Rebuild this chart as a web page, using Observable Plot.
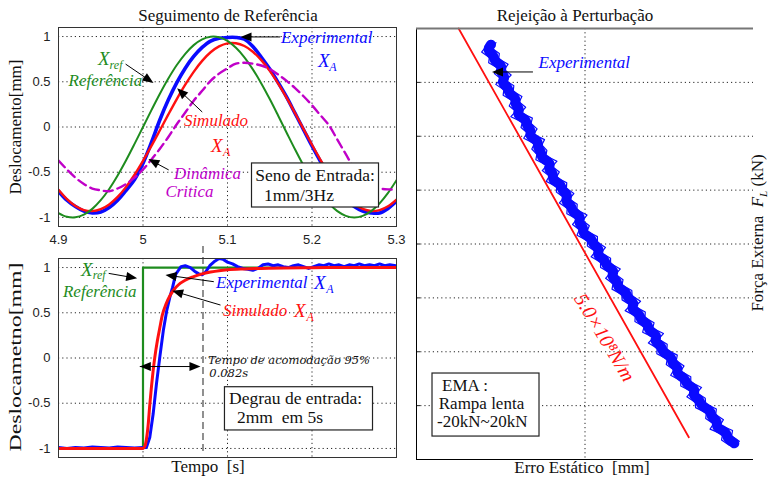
<!DOCTYPE html>
<html><head><meta charset="utf-8">
<script src="https://cdn.jsdelivr.net/npm/d3@7"></script>
<script src="https://cdn.jsdelivr.net/npm/@observablehq/plot@0.6"></script>
<style>
body{margin:0;background:#fff}
#chart{position:relative;width:770px;height:477px;overflow:hidden;background:#fff;font-family:"Liberation Serif","Times New Roman",serif;color:#111}
.lbl{position:absolute;white-space:pre;font-size:17px;line-height:1;transform:translate(-50%,-50%)}
.pane{position:absolute}
</style></head><body><div id="chart"></div><script>
// ---------- data: top-left (sine tracking) ----------
const tTop = [4.90,4.91,4.92,4.93,4.94,4.95,4.96,4.97,4.98,4.99,5.00,5.01,5.02,5.03,5.04,5.05,5.06,5.07,5.08,5.09,5.10,5.11,5.12,5.13,5.14,5.15,5.16,5.17,5.18,5.19,5.20,5.21,5.22,5.23,5.24,5.25,5.26,5.27,5.28,5.29,5.30];
const refTop = [-0.951,-0.992,-0.998,-0.969,-0.905,-0.809,-0.685,-0.536,-0.368,-0.187,0,0.187,0.368,0.536,0.685,0.809,0.905,0.969,0.998,0.992,0.951,0.876,0.771,0.637,0.482,0.309,0.125,-0.063,-0.249,-0.426,-0.588,-0.729,-0.844,-0.930,-0.982,-1.000,-0.982,-0.930,-0.844,-0.729,-0.588];
const simTop = [-0.693,-0.797,-0.873,-0.918,-0.930,-0.909,-0.856,-0.773,-0.662,-0.528,-0.375,-0.209,-0.036,0.139,0.309,0.468,0.610,0.731,0.826,0.891,0.925,0.926,0.895,0.832,0.739,0.620,0.479,0.321,0.152,-0.023,-0.196,-0.363,-0.517,-0.654,-0.766,-0.851,-0.906,-0.929,-0.919,-0.877,-0.804];
const expTop = [-0.71,-0.81,-0.88,-0.93,-0.95,-0.94,-0.89,-0.81,-0.70,-0.58,-0.40,-0.17,0.08,0.30,0.49,0.65,0.78,0.88,0.95,0.98,0.99,0.99,0.97,0.89,0.77,0.64,0.49,0.33,0.15,-0.03,-0.21,-0.38,-0.54,-0.68,-0.80,-0.88,-0.93,-0.95,-0.95,-0.90,-0.82];
const critTop = [-0.37,-0.47,-0.56,-0.63,-0.68,-0.70,-0.71,-0.68,-0.63,-0.56,-0.47,-0.36,-0.24,-0.11,0.03,0.16,0.29,0.40,0.51,0.59,0.65,0.70,0.71,0.70,0.68,0.64,0.58,0.51,0.43,0.34,0.24,0.13,0.02,-0.14,-0.30,-0.46,-0.58,-0.65,-0.68,-0.69,-0.69];

// ---------- data: bottom-left (step response) ----------
const tStepRef = [4.90,5.00,5.00,5.30];
const stepRef = [-1,-1,1,1];
const tStepSim = [4.90,5.000,5.002,5.004,5.006,5.008,5.010,5.012,5.014,5.017,5.020,5.023,5.027,5.032,5.037,5.042,5.050,5.060,5.070,5.080,5.090,5.100,5.120,5.150,5.200,5.250,5.300];
const stepSim = [-1,-1,-0.98,-0.90,-0.75,-0.52,-0.32,-0.14,0.01,0.19,0.34,0.48,0.59,0.69,0.76,0.81,0.86,0.90,0.93,0.95,0.965,0.975,0.985,0.993,0.998,1.0,1.0];
const tStepExp = [4.900,4.910,4.920,4.930,4.940,4.950,4.960,4.970,4.980,4.990,5.000,5.004,5.008,5.012,5.016,5.020,5.024,5.028,5.032,5.035,5.037,5.039,5.042,5.045,5.050,5.056,5.061,5.066,5.070,5.074,5.079,5.085,5.090,5.095,5.100,5.106,5.112,5.118,5.124,5.130,5.136,5.142,5.148,5.154,5.160,5.166,5.172,5.178,5.184,5.190,5.196,5.202,5.208,5.214,5.220,5.226,5.232,5.238,5.244,5.250,5.256,5.262,5.268,5.274,5.280,5.286,5.292,5.300];
const stepExp = [-0.99,-1.00,-0.99,-0.995,-0.985,-0.99,-0.995,-0.985,-0.99,-0.995,-0.99,-0.99,-0.88,-0.62,-0.28,0.02,0.30,0.52,0.68,0.78,0.86,0.93,0.97,1.01,1.02,1.00,0.96,0.93,0.92,0.95,1.02,1.07,1.10,1.09,1.06,1.04,1.01,0.99,0.98,0.97,0.99,1.03,1.04,1.02,1.03,1.01,1.00,1.02,1.03,1.01,0.99,1.01,1.03,1.02,1.04,1.02,1.03,1.01,1.03,1.02,1.04,1.02,1.03,1.02,1.04,1.02,1.03,1.02];
const settlingTime = 5.071;

// ---------- data: right (disturbance rejection) ----------
const rampForce = [18.5,18,17.5,17,16.5,16,15.5,15,14.5,14,13.5,13,12.5,12,11.5,11,10.5,10,9.5,9,8.5,8,7.5,7,6.5,6,5.5,5,4.5,4,3.5,3,2.5,2,1.5,1,0.5,0,-0.5,-1,-1.5,-2,-2.5,-3,-3.5,-4,-4.5,-5,-5.5,-6,-6.5,-7,-7.5,-8,-8.5,-9,-9.5,-10,-10.5,-11,-11.5,-12,-12.5,-13,-13.5,-14,-14.5,-15,-15.5,-16,-16.5,-17,-17.5,-18,-18.5];
const rampError = [-0.0279,-0.0292,-0.0269,-0.0271,-0.0243,-0.0254,-0.0234,-0.0250,-0.0226,-0.0228,-0.0202,-0.0210,-0.0191,-0.0205,-0.0171,-0.0175,-0.0157,-0.0167,-0.0135,-0.0143,-0.0128,-0.0131,-0.0098,-0.0112,-0.0091,-0.0100,-0.0069,-0.0070,-0.0048,-0.0061,-0.0038,-0.0039,-0.0009,-0.0022,-0.0002,-0.0009,0.0022,0.0022,0.0046,0.0033,0.0061,0.0061,0.0090,0.0076,0.0098,0.0095,0.0124,0.0125,0.0150,0.0134,0.0164,0.0163,0.0190,0.0186,0.0218,0.0203,0.0229,0.0228,0.0259,0.0256,0.0279,0.0269,0.0299,0.0299,0.0331,0.0317,0.0342,0.0343,0.0375,0.0373,0.0396,0.0386,0.0423,0.0420,0.0443];
const stiffError = [-0.0375, 0.0308];
const stiffForce = [20, -17.93];

// ---------- tick labels ----------
const xTickValues = [4.9, 5.0, 5.1, 5.2, 5.3];
const xTickLabels = ["4.9", "5", "5.1", "5.2", "5.3"];
const yTickValues = [-1, -0.5, 0, 0.5, 1];
const yTickLabels = ["-1", "-0.5", "0", "0.5", "1"];
const timeGrid = [5.0, 5.1, 5.2];
const forceGrid = [-15, -10, -5, 0, 5, 10, 15];
const errorGrid = [0];

// ---------- helpers ----------
const SERIF = "Liberation Serif, Times New Roman, serif";
const BLUE = "#0a0aff", RED = "#ff1010", GREEN = "#1e8c1e", MAG = "#c000c8";
const xLab = new Map(xTickValues.map((v, i) => [v, xTickLabels[i]]));
const yLab = new Map(yTickValues.map((v, i) => [v, yTickLabels[i]]));
const rows = (xs, ys) => xs.map((x, i) => ({x, y: ys[i]}));
const dotted = {stroke: "#000", strokeOpacity: 0.85, strokeDasharray: "1.2,3", strokeWidth: 1};
const baseStyle = {background: "transparent", overflow: "visible", fontFamily: "Liberation Sans, Arial, sans-serif", fontSize: "13px", color: "#222"};

function note(x, y, text, o = {}) {
  return Plot.text([{x, y, text}], {x: "x", y: "y", text: "text", fontFamily: SERIF, fontSize: 17,
    lineAnchor: "middle", textAnchor: "start", fill: "#111", ...o});
}
function box(x1, x2, y1, y2) {
  return Plot.rect([{x1, x2, y1, y2}], {x1: "x1", x2: "x2", y1: "y1", y2: "y2", fill: "white", stroke: "#222", strokeWidth: 1.2});
}
function arrows(specs) {
  return (index, scales) => {
    const g = d3.create("svg:g");
    const head = (xt, yt, a, L, W) => {
      const bx = xt - L * Math.cos(a), by = yt - L * Math.sin(a);
      const px = -Math.sin(a) * W, py = Math.cos(a) * W;
      return `M${xt},${yt}L${bx + px},${by + py}L${bx - px},${by - py}Z`;
    };
    for (const s of specs) {
      const x1 = scales.x(s.x1), y1 = scales.y(s.y1), x2 = scales.x(s.x2), y2 = scales.y(s.y2);
      const a = Math.atan2(y2 - y1, x2 - x1);
      const L = s.len || 11, W = s.w || 4.5;
      g.append("line").attr("x1", x1).attr("y1", y1).attr("x2", x2 - L * 0.8 * Math.cos(a)).attr("y2", y2 - L * 0.8 * Math.sin(a))
        .attr("stroke", "#000").attr("stroke-width", 1);
      g.append("path").attr("d", head(x2, y2, a, L, W)).attr("fill", "#000");
      if (s.both) g.append("path").attr("d", head(x1, y1, a + Math.PI, L, W)).attr("fill", "#000");
    }
    return g.node();
  };
}

const chart = document.getElementById("chart");
function place(el, left, top) {
  const d = document.createElement("div");
  d.className = "pane"; d.style.left = left + "px"; d.style.top = top + "px";
  d.appendChild(el); chart.appendChild(d);
}
function label(html, x, y, extra = "") {
  const d = document.createElement("div");
  d.className = "lbl"; d.innerHTML = html;
  d.style.left = x + "px"; d.style.top = y + "px";
  if (extra) d.style.transform = "translate(-50%,-50%) " + extra;
  chart.appendChild(d);
}

// ---------- top-left plot ----------
const topPlot = Plot.plot({
  width: 400, height: 250, marginLeft: 58, marginRight: 4, marginTop: 27, marginBottom: 24,
  style: baseStyle,
  x: {domain: [4.9, 5.3], label: null},
  y: {domain: [-1.1, 1.1], label: null},
  marks: [
    Plot.gridX(timeGrid, dotted),
    Plot.gridY(yTickValues, dotted),
    Plot.axisX(xTickValues, {tickSize: 0, tickPadding: 8, tickFormat: d => xLab.get(d), label: null}),
    Plot.axisY(yTickValues, {tickSize: 0, tickPadding: 8, tickFormat: d => yLab.get(d), label: null}),
    Plot.line(rows(tTop, expTop), {x: "x", y: "y", stroke: BLUE, strokeWidth: 3.6, curve: "catmull-rom", clip: true}),
    Plot.line(rows(tTop, simTop), {x: "x", y: "y", stroke: RED, strokeWidth: 2.4, curve: "catmull-rom", clip: true}),
    Plot.line(rows(tTop, refTop), {x: "x", y: "y", stroke: GREEN, strokeWidth: 2, curve: "catmull-rom", clip: true}),
    Plot.line(rows(tTop, critTop), {x: "x", y: "y", stroke: MAG, strokeWidth: 2.4, strokeDasharray: "9,5", curve: "catmull-rom", clip: true}),
    arrows([
      {x1: 4.980, y1: 0.69, x2: 5.013, y2: 0.48},
      {x1: 5.163, y1: 0.99, x2: 5.116, y2: 0.99},
      {x1: 5.0707, y1: 0.16, x2: 5.041, y2: 0.422},
      {x1: 5.031, y1: -0.48, x2: 5.007, y2: -0.36}
    ]),
    note(4.9467, 0.755, "X", {fill: GREEN, fontStyle: "italic", fontSize: 19}),
    note(4.9605, 0.685, "ref", {fill: GREEN, fontStyle: "italic", fontSize: 12}),
    note(4.999, 0.514, "Referência", {fill: GREEN, fontStyle: "italic", textAnchor: "end"}),
    note(5.1633, 0.985, "Experimental", {fill: BLUE, fontStyle: "italic"}),
    note(5.207, 0.735, "X", {fill: BLUE, fontStyle: "italic", fontSize: 19}),
    note(5.2205, 0.657, "A", {fill: BLUE, fontStyle: "italic", fontSize: 12}),
    note(5.0864, 0.07, "Simulado", {fill: RED, fontStyle: "italic", textAnchor: "middle"}),
    note(5.0805, -0.205, "X", {fill: RED, fontStyle: "italic", fontSize: 19}),
    note(5.0947, -0.28, "A", {fill: RED, fontStyle: "italic", fontSize: 12}),
    note(5.0763, -0.514, "Dinâmica", {fill: MAG, fontStyle: "italic", textAnchor: "middle"}),
    note(5.055, -0.713, "Critica", {fill: MAG, fontStyle: "italic", textAnchor: "middle"}),
    box(5.129, 5.2793, -0.403, -0.890),
    note(5.1328, -0.536, "Seno de Entrada:", {fontSize: 17.5}),
    note(5.1432, -0.757, "1mm/3Hz", {fontSize: 17.5}),
    Plot.frame({stroke: "#333", strokeWidth: 1})
  ]
});
place(topPlot, 0, 0);

// ---------- bottom-left plot ----------
const botPlot = Plot.plot({
  width: 400, height: 227, marginLeft: 58, marginRight: 4, marginTop: 8, marginBottom: 20,
  style: baseStyle,
  x: {domain: [4.9, 5.3], label: null, axis: null},
  y: {domain: [-1.1, 1.1], label: null},
  marks: [
    Plot.gridX(timeGrid, dotted),
    Plot.gridY(yTickValues, dotted),
    Plot.axisY(yTickValues, {tickSize: 0, tickPadding: 8, tickFormat: d => yLab.get(d), label: null}),
    Plot.ruleX([settlingTime], {y1: 1.232, y2: -1.044, stroke: "#555", strokeWidth: 1.3, strokeDasharray: "7,4"}),
    Plot.line(rows(tStepRef, stepRef), {x: "x", y: "y", stroke: GREEN, strokeWidth: 2.2, clip: true}),
    Plot.line(rows(tStepExp, stepExp), {x: "x", y: "y", stroke: BLUE, strokeWidth: 3, clip: true}),
    Plot.line(rows(tStepSim, stepSim), {x: "x", y: "y", stroke: RED, strokeWidth: 3, curve: "monotone-x", clip: true}),
    arrows([
      {x1: 4.960, y1: 0.93, x2: 4.9937, y2: 0.875},
      {x1: 5.0844, y1: 0.838, x2: 5.0272, y2: 0.912},
      {x1: 5.0923, y1: 0.58, x2: 5.0351, y2: 0.738},
      {x1: 4.9968, y1: -0.10, x2: 5.0686, y2: -0.10, both: true}
    ]),
    note(4.9266, 0.975, "X", {fill: GREEN, fontStyle: "italic", fontSize: 19}),
    note(4.9405, 0.915, "ref", {fill: GREEN, fontStyle: "italic", fontSize: 12}),
    note(4.9053, 0.735, "Referência", {fill: GREEN, fontStyle: "italic"}),
    note(5.0864, 0.834, "Experimental", {fill: BLUE, fontStyle: "italic"}),
    note(5.2024, 0.834, "X", {fill: BLUE, fontStyle: "italic", fontSize: 19}),
    note(5.2170, 0.765, "A", {fill: BLUE, fontStyle: "italic", fontSize: 12}),
    note(5.0947, 0.525, "Simulado", {fill: RED, fontStyle: "italic"}),
    note(5.1787, 0.525, "X", {fill: RED, fontStyle: "italic", fontSize: 19}),
    note(5.1935, 0.455, "A", {fill: RED, fontStyle: "italic", fontSize: 12}),
    note(5.0770, -0.03, "Tempo de acomodação 95%", {fontFamily: "DejaVu Serif, serif", fontStyle: "italic", fontSize: 11.5}),
    note(5.0785, -0.17, "0.082s", {fontFamily: "DejaVu Serif, serif", fontStyle: "italic", fontSize: 11.5}),
    box(5.097, 5.2722, -0.323, -0.801),
    note(5.1018, -0.447, "Degrau de entrada:", {fontSize: 17.5}),
    note(5.1112, -0.657, "2mm  em 5s", {fontSize: 17.5}),
    Plot.frame({stroke: "#333", strokeWidth: 1})
  ]
});
place(botPlot, 0, 250);

// ---------- right plot ----------
const rightPlot = Plot.plot({
  width: 370, height: 477, marginLeft: 16, marginRight: 17, marginTop: 28, marginBottom: 18,
  style: baseStyle,
  x: {domain: [-0.05, 0.05], label: null, axis: null},
  y: {domain: [-20, 20], label: null},
  marks: [
    Plot.gridY(forceGrid, dotted),
    Plot.gridX(errorGrid, dotted),
    Plot.axisY(forceGrid, {tickSize: 4, dx: 4, tickFormat: () => "", label: null}),
    Plot.line(rows(rampError, rampForce), {x: "x", y: "y", stroke: BLUE, strokeWidth: 10, curve: "basis", strokeLinecap: "round"}),
    Plot.line(rows(rampError, rampForce), {x: "x", y: "y", stroke: BLUE, strokeWidth: 1.2, dx: 5, dy: -2}),
    Plot.line(rows(rampError, rampForce), {x: "x", y: "y", stroke: BLUE, strokeWidth: 1.2, dx: -5, dy: 2}),
    Plot.line(rows(stiffError, stiffForce), {x: "x", y: "y", stroke: RED, strokeWidth: 1.8}),
    arrows([{x1: -0.0153, y1: 15.92, x2: -0.02745, y2: 15.92}]),
    note(-0.0138, 16.84, "Experimental", {fill: BLUE, fontStyle: "italic"}),
    note(0.00579, -8.68, "5.0×10⁸N/m", {fill: RED, fontStyle: "italic", fontSize: 20, textAnchor: "middle", rotate: 59}),
    box(-0.04525, -0.0135, -12.02, -17.87),
    note(-0.0424, -13.13, "EMA :", {fontSize: 17}),
    note(-0.0434, -14.80, "Rampa lenta", {fontSize: 17}),
    note(-0.0439, -16.47, "-20kN~20kN", {fontSize: 17}),
    Plot.ruleX([-0.05], {stroke: "#000", strokeWidth: 1}),
    Plot.ruleY([-20], {stroke: "#000", strokeWidth: 1}),
    Plot.ruleY([20], {stroke: "#777", strokeWidth: 2})
  ]
});
place(rightPlot, 400, 0);

// ---------- titles and axis labels ----------
label("Seguimento de Referência", 228, 15);
label("Rejeição à Perturbação", 575, 15);
label("Deslocamento[mm]", 15, 127, "rotate(-90deg)");
label("Deslocametno[mm]", 15, 357, "rotate(-90deg) scaleX(1.4)");
label("Tempo  [s]", 208, 466);
label("Erro Estático  [mm]", 582, 467);
label('Força Externa  <i>F</i><sub style="font-size:11px;font-style:italic">L</sub> (kN)', 759, 233, "rotate(-90deg)");
</script></body></html>
